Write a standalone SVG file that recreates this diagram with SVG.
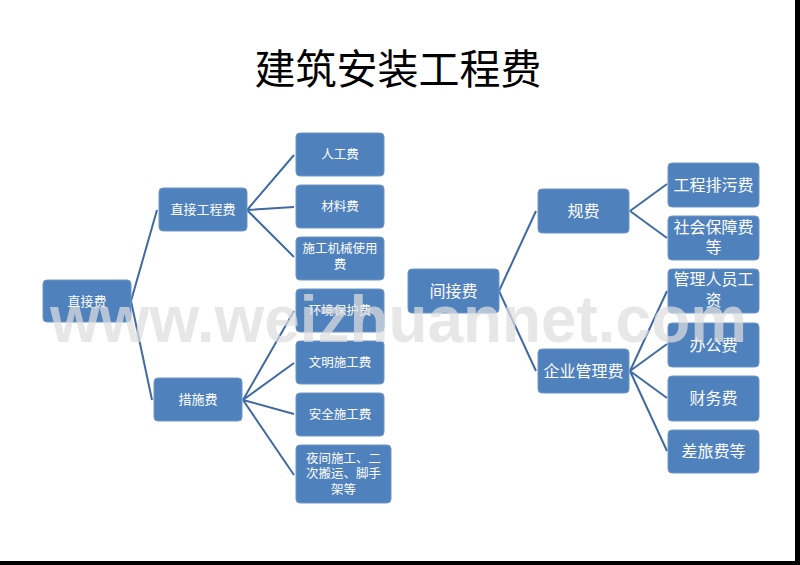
<svg xmlns="http://www.w3.org/2000/svg" width="800" height="565" viewBox="0 0 800 565">
<style>
.box{fill:#4f81bd;stroke:#6d95c8;stroke-width:1}
.t{fill:#fff;font-family:"Noto Sans CJK SC","Liberation Sans",sans-serif;text-anchor:middle}
.s{font-size:12.5px}
.m{font-size:13px}
.l{font-size:16px}
.c{fill:none;stroke:#3f6aa3;stroke-width:2}
</style>
<rect width="800" height="565" fill="#fff"/>
<text x="398" y="84" font-family="'Noto Sans CJK SC','Liberation Sans',sans-serif" font-size="41" text-anchor="middle" fill="#000">建筑安装工程费</text>
<g id="connectors">
<path class="c" d="M131 301L157 210M131 301L152 400"/>
<path class="c" d="M247 210L294 155M247 210L294 207M247 210L294 257"/>
<path class="c" d="M243 400L294 311M243 400L294 363M243 400L294 414M243 400L294 475"/>
<path class="c" d="M499 291L536 211M499 291L536 371"/>
<path class="c" d="M630 211L667 184M630 211L667 238"/>
<path class="c" d="M630 371L667 291M630 371L667 344M630 371L667 398M630 371L667 451"/>
</g>
<g id="n1"><rect class="box" x="43" y="280" width="88" height="42" rx="4"/><text class="t m" x="87" y="305.5">直接费</text></g>
<g id="n2"><rect class="box" x="159" y="188" width="88" height="43" rx="4"/><text class="t m" x="203" y="214">直接工程费</text></g>
<g id="n3"><rect class="box" x="154" y="378" width="88" height="43" rx="4"/><text class="t m" x="198" y="404">措施费</text></g>
<g id="n4"><rect class="box" x="296" y="133" width="88" height="43" rx="4"/><text class="t s" x="340" y="159">人工费</text></g>
<g id="n5"><rect class="box" x="296" y="185" width="88" height="43" rx="4"/><text class="t s" x="340" y="211">材料费</text></g>
<g id="n6"><rect class="box" x="296" y="237" width="88" height="43" rx="4"/><text class="t s" x="340" y="252.5">施工机械使用</text><text class="t s" x="340" y="268.5">费</text></g>
<g id="n7"><rect class="box" x="296" y="289" width="88" height="43" rx="4"/><text class="t s" x="340" y="315">环境保护费</text></g>
<g id="n8"><rect class="box" x="296" y="341" width="88" height="43" rx="4"/><text class="t s" x="340" y="367">文明施工费</text></g>
<g id="n9"><rect class="box" x="296" y="393" width="88" height="43" rx="4"/><text class="t s" x="340" y="419">安全施工费</text></g>
<g id="n10"><rect class="box" x="296" y="445" width="95" height="58" rx="4"/><text class="t s" x="343.5" y="462.5">夜间施工、二</text><text class="t s" x="343.5" y="478">次搬运、脚手</text><text class="t s" x="343.5" y="493.5">架等</text></g>
<g id="n11"><rect class="box" x="408" y="269" width="91" height="44" rx="4"/><text class="t l" x="453.5" y="296.5">间接费</text></g>
<g id="n12"><rect class="box" x="538" y="189" width="91" height="44" rx="4"/><text class="t l" x="583.5" y="216.5">规费</text></g>
<g id="n13"><rect class="box" x="538" y="349" width="91" height="44" rx="4"/><text class="t l" x="583.5" y="376.5">企业管理费</text></g>
<g id="n14"><rect class="box" x="668" y="163" width="91" height="44" rx="4"/><text class="t l" x="713.5" y="190.5">工程排污费</text></g>
<g id="n15"><rect class="box" x="668" y="216" width="91" height="44" rx="4"/><text class="t l" x="713.5" y="232.5">社会保障费</text><text class="t l" x="713.5" y="252.5">等</text></g>
<g id="n16"><rect class="box" x="668" y="269" width="91" height="44" rx="4"/><text class="t l" x="713.5" y="284.5">管理人员工</text><text class="t l" x="713.5" y="305.5">资</text></g>
<g id="n17"><rect class="box" x="668" y="323" width="91" height="44" rx="4"/><text class="t l" x="713.5" y="350.5">办公费</text></g>
<g id="n18"><rect class="box" x="668" y="376" width="91" height="45" rx="4"/><text class="t l" x="713.5" y="403.5">财务费</text></g>
<g id="n19"><rect class="box" x="668" y="430" width="91" height="43" rx="4"/><text class="t l" x="713.5" y="456.5">差旅费等</text></g>
<text x="50" y="342" font-family="'Liberation Sans',sans-serif" font-weight="bold" font-size="66" textLength="697" lengthAdjust="spacingAndGlyphs" fill="#dedede" fill-opacity="0.72">www.weizhuannet.com</text>
<rect x="795" y="0" width="5" height="565" fill="#000"/>
<rect x="0" y="561" width="800" height="4" fill="#000"/>
</svg>
